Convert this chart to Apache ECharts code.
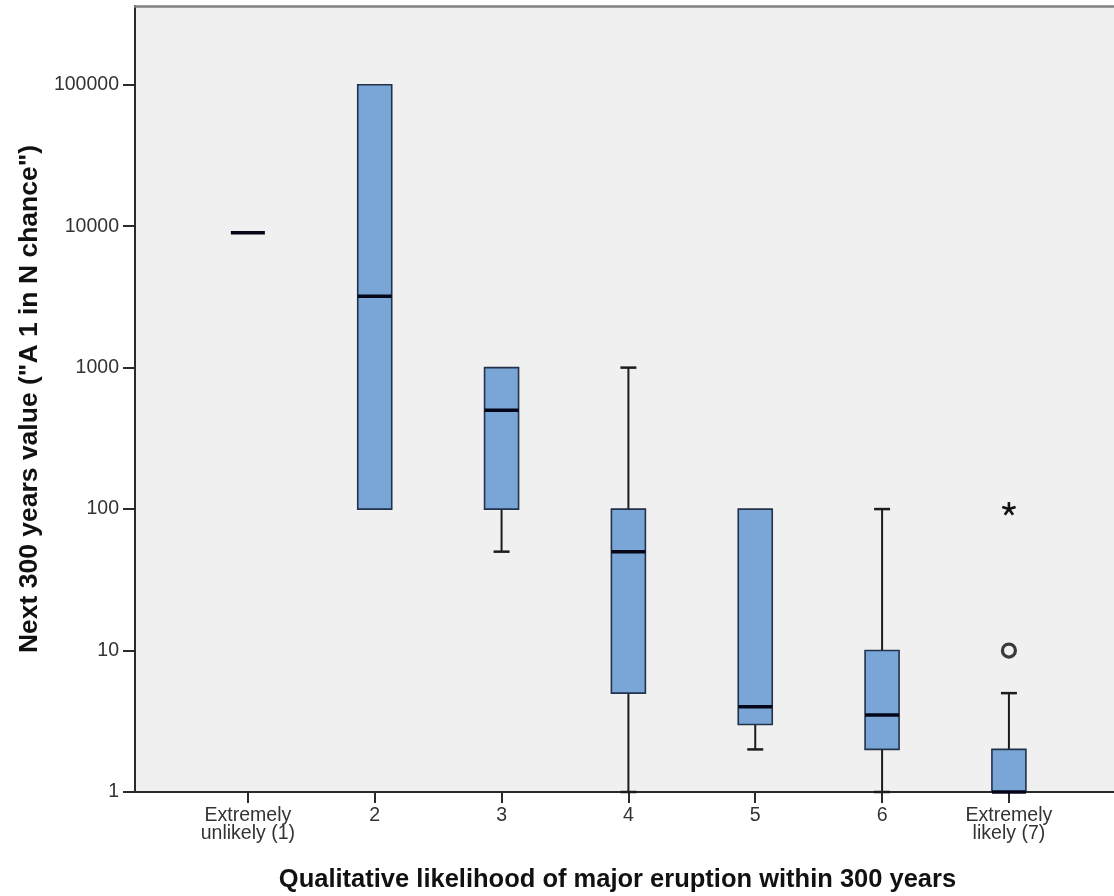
<!DOCTYPE html>
<html><head><meta charset="utf-8">
<script src="https://cdn.jsdelivr.net/npm/echarts@6/dist/echarts.min.js"></script>
<style>html,body{margin:0;padding:0;background:#fff}#c{width:1114px;height:896px}</style>
</head><body><div id="c"></div>
<script>
const categories = ['Extremely\nunlikely (1)', '2', '3', '4', '5', '6', 'Extremely\nlikely (7)'];
const categoryPositions = [1, 2, 3, 4, 5, 6, 7];
const whiskerLow  = [9000, 100,    50,   1,    2,   1,   1];
const quartile1   = [9000, 100,    100,  5,    3,   2,   1];
const medians     = [9000, 3200,   500,  50,   4,   3.5, 1];
const quartile3   = [9000, 100000, 1000, 100,  100, 10,  2];
const whiskerHigh = [9000, 100000, 1000, 1000, 100, 100, 5];
const outlierCategory = [7];
const outlierValues = [10];
const extremeCategory = [7];
const extremeValues = [100];
const yTickValues = [1, 10, 100, 1000, 10000, 100000];

const FONT = '"Liberation Sans", Arial, sans-serif';

const boxData = categoryPositions.map((x, i) => [x, whiskerLow[i], quartile1[i], medians[i], quartile3[i], whiskerHigh[i]]);
const outlierData = outlierCategory.map((x, i) => [x, outlierValues[i]]);
const extremeData = extremeCategory.map((x, i) => [x, extremeValues[i]]);

function renderBox(params, api) {
  const x = api.value(0);
  const lo = api.value(1), q1 = api.value(2), md = api.value(3), q3 = api.value(4), hi = api.value(5);
  const band = api.size([1, 0], [1, 1])[0];
  const bw = band * 0.268;
  const cw = band * 0.126;
  const pLo = api.coord([x, lo]), pQ1 = api.coord([x, q1]), pMd = api.coord([x, md]);
  const pQ3 = api.coord([x, q3]), pHi = api.coord([x, hi]);
  const cx = pMd[0];
  const children = [];
  const wStyle = { stroke: '#1c1c1c', lineWidth: 2 };
  const capStyle = { stroke: '#1c1c1c', lineWidth: 2.5 };
  if (lo < q1) {
    children.push({ type: 'line', shape: { x1: cx, y1: pQ1[1], x2: cx, y2: pLo[1] }, style: wStyle });
    children.push({ type: 'line', shape: { x1: cx - cw / 2, y1: pLo[1], x2: cx + cw / 2, y2: pLo[1] }, style: capStyle });
  }
  if (hi > q3) {
    children.push({ type: 'line', shape: { x1: cx, y1: pQ3[1], x2: cx, y2: pHi[1] }, style: wStyle });
    children.push({ type: 'line', shape: { x1: cx - cw / 2, y1: pHi[1], x2: cx + cw / 2, y2: pHi[1] }, style: capStyle });
  }
  if (q3 > q1) {
    children.push({ type: 'rect', shape: { x: cx - bw / 2, y: pQ3[1], width: bw, height: pQ1[1] - pQ3[1] },
      style: { fill: '#79a6d7', stroke: '#22324a', lineWidth: 1.6 } });
  }
  children.push({ type: 'line', shape: { x1: cx - bw / 2, y1: pMd[1], x2: cx + bw / 2, y2: pMd[1] },
    style: { stroke: '#06061a', lineWidth: 3.5 } });
  return { type: 'group', children };
}

function renderStar(params, api) {
  const p = api.coord([api.value(0), api.value(1)]);
  const r = 7;
  const children = [];
  for (let k = 0; k < 5; k++) {
    const a = (-90 + k * 72) * Math.PI / 180;
    children.push({ type: 'line', shape: { x1: p[0], y1: p[1], x2: p[0] + r * Math.cos(a), y2: p[1] + r * Math.sin(a) },
      style: { stroke: '#111', lineWidth: 2.6 } });
  }
  return { type: 'group', children };
}

const chart = echarts.init(document.getElementById('c'), null, { renderer: 'canvas' });
chart.setOption({
  animation: false,
  backgroundColor: '#ffffff',
  textStyle: { fontFamily: FONT },
  grid: { left: 135, top: 6, right: -4, bottom: 104, show: true, backgroundColor: '#f0f0f0', borderWidth: 0,
          containLabel: false, outerBoundsMode: 'none' },
  xAxis: [{
    type: 'value', min: 0.11, max: 7.86,
    splitLine: { show: false },
    axisLine: { show: true, lineStyle: { color: '#2a2a2a', width: 2 } },
    axisTick: { show: true, customValues: categoryPositions, length: 11, lineStyle: { color: '#2a2a2a', width: 2 } },
    axisLabel: { customValues: categoryPositions, formatter: v => categories[Math.round(v) - 1], fontSize: 19.5, lineHeight: 17.5, margin: 15, color: '#333', fontFamily: FONT },
    name: 'Qualitative likelihood of major eruption within 300 years',
    nameLocation: 'middle', nameGap: 75,
    nameTextStyle: { fontSize: 25.5, fontWeight: 'bold', color: '#111', fontFamily: FONT, padding: [0, 18, 0, 0] }
  }, {
    type: 'value', position: 'top', min: 0.11, max: 7.86,
    splitLine: { show: false },
    axisLine: { show: true, lineStyle: { color: '#808080', width: 2.5 } },
    axisTick: { show: false }, axisLabel: { show: false }
  }],
  yAxis: {
    type: 'log', logBase: 10, min: 1, max: 360000,
    splitLine: { show: false },
    axisLine: { show: true, lineStyle: { color: '#2a2a2a', width: 2 } },
    axisTick: { show: true, customValues: yTickValues, length: 12, lineStyle: { color: '#2a2a2a', width: 2 } },
    axisLabel: { customValues: yTickValues, formatter: v => String(Math.round(v)), fontSize: 19.5, margin: 16, color: '#333', fontFamily: FONT },
    name: 'Next 300 years value ("A 1 in N chance")',
    nameLocation: 'middle', nameGap: 91,
    nameTextStyle: { fontSize: 26.5, fontWeight: 'bold', color: '#111', fontFamily: FONT }
  },
  series: [
    { type: 'custom', renderItem: renderBox, data: boxData, encode: { x: 0, y: [1, 2, 3, 4, 5] }, clip: false },
    { type: 'scatter', data: outlierData, symbol: 'circle', symbolSize: 13,
      itemStyle: { color: 'rgba(0,0,0,0)', borderColor: '#0d0d0d', borderWidth: 3.2 } },
    { type: 'custom', renderItem: renderStar, data: extremeData, encode: { x: 0, y: 1 } }
  ]
});
</script></body></html>
